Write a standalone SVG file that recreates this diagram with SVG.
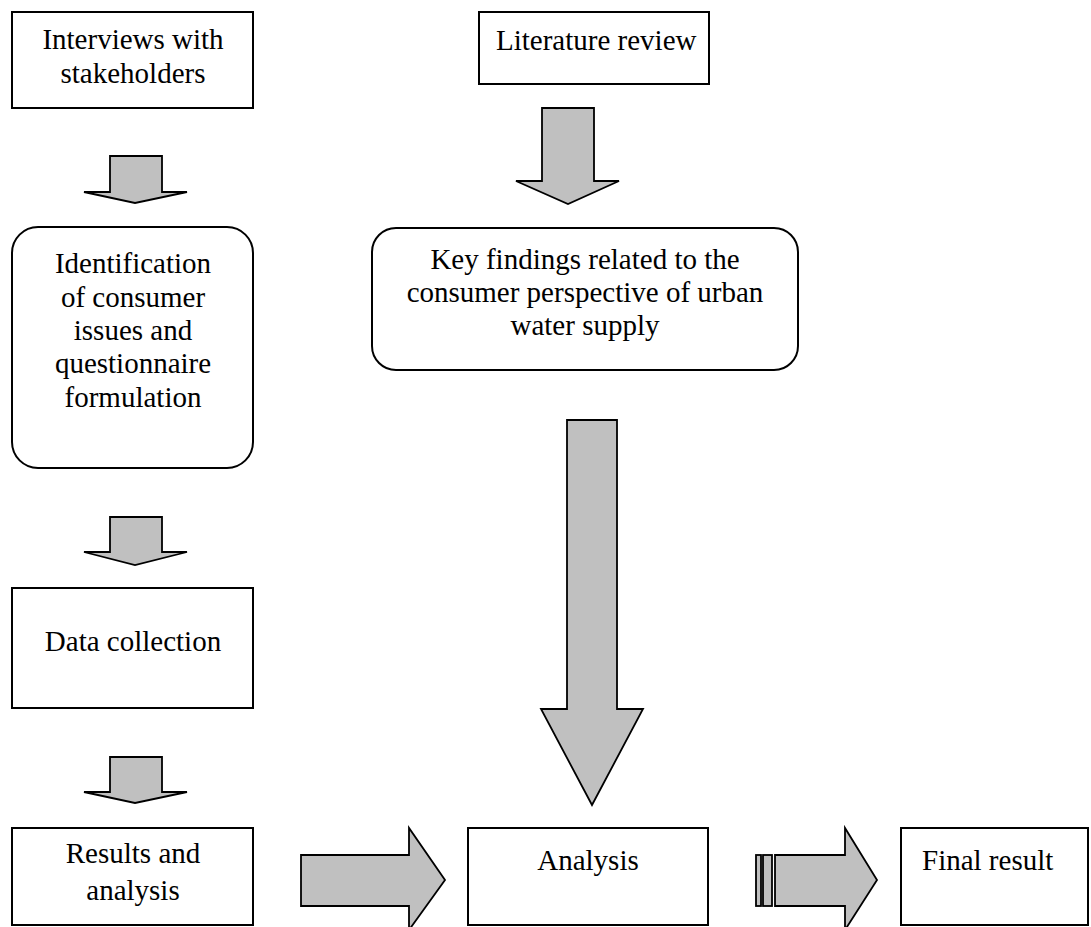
<svg xmlns="http://www.w3.org/2000/svg" width="1091" height="927" viewBox="0 0 1091 927">
<style>
.box{fill:#fff;stroke:#000;stroke-width:2}
.arr{fill:#c0c0c0;stroke:#000;stroke-width:1.8;stroke-linejoin:miter}
text{font-family:"Liberation Serif","Times New Roman",serif;font-size:29px;fill:#000}
.c{text-anchor:middle}
</style>
<rect width="1091" height="927" fill="#fff"/>
<g id="interviews"><rect class="box" x="12" y="12" width="241" height="96"/>
<text class="c" x="133" y="49">Interviews with</text><text class="c" x="133" y="83">stakeholders</text></g>
<g id="literature"><rect class="box" x="479" y="12" width="230" height="72"/>
<text x="496" y="50">Literature review</text></g>
<g id="identification"><rect class="box" x="12" y="227" width="241" height="241" rx="26"/>
<text class="c" x="133" y="273">Identification</text><text class="c" x="133" y="307">of consumer</text><text class="c" x="133" y="340">issues and</text><text class="c" x="133" y="373">questionnaire</text><text class="c" x="133" y="407">formulation</text></g>
<g id="keyfindings"><rect class="box" x="372" y="228" width="426" height="142" rx="24"/>
<text class="c" x="585" y="269">Key findings related to the</text><text class="c" x="585" y="302">consumer perspective of urban</text><text class="c" x="585" y="335">water supply</text></g>
<g id="datacollection"><rect class="box" x="12" y="588" width="241" height="120"/>
<text class="c" x="133" y="651">Data collection</text></g>
<g id="results"><rect class="box" x="12" y="828" width="241" height="97"/>
<text class="c" x="133" y="863">Results and</text><text class="c" x="133" y="900">analysis</text></g>
<g id="analysis"><rect class="box" x="468" y="828" width="240" height="97"/>
<text class="c" x="588" y="870">Analysis</text></g>
<g id="finalresult"><rect class="box" x="901" y="828" width="187" height="97"/>
<text x="922" y="870">Final result</text></g>
<g id="connectors">
<polygon class="arr" points="110,156 162,156 162,192 187,192 135,203 84,192 110,192"/>
<polygon class="arr" points="542,108 594,108 594,181 619,181 568,204 516,181 542,181"/>
<polygon class="arr" points="110,517 162,517 162,552 187,552 135,565 84,552 110,552"/>
<polygon class="arr" points="110,757 162,757 162,792 187,792 135,803 84,792 110,792"/>
<polygon class="arr" points="567,420 617,420 617,709 643,709 592,805 541,709 567,709"/>
<polygon class="arr" points="301,855 409,855 409,828 445,880 409,930 409,906 301,906"/>
<rect class="arr" x="756" y="855" width="5" height="51"/>
<rect class="arr" x="763" y="855" width="9" height="51"/>
<polygon class="arr" points="775,855 845,855 845,828 877,880 845,930 845,906 775,906"/>
</g>
</svg>
